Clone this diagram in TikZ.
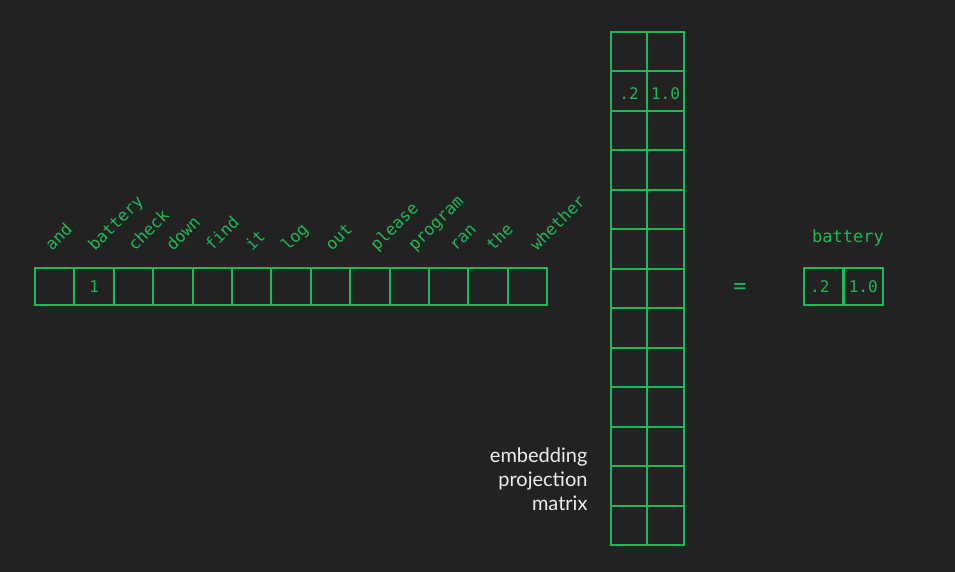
\documentclass[tikz,border=0pt]{standalone}
\usepackage{fontspec}
\setmainfont{Lato}
\setmonofont{DejaVu Sans Mono}
\usetikzlibrary{positioning}
\definecolor{bgdark}{HTML}{222222}
\definecolor{embgreen}{HTML}{1DB954}
\definecolor{labwhite}{HTML}{EEEEEE}
\tikzset{
  cell/.style={draw=embgreen, line width=2pt, inner sep=0pt, outer sep=0pt,
    text=embgreen, font=\ttfamily\fontsize{16}{16}\selectfont},
  onehot/.style={cell, minimum width=39.4pt, minimum height=37pt},
  projcell/.style={cell, minimum width=36.5pt, minimum height=39.46pt},
  word/.style={text=embgreen, inner sep=0pt, rotate=45, anchor=base west,
    font=\ttfamily\fontsize{16.5}{16.5}\selectfont}
}
\begin{document}
\begin{tikzpicture}[x=1pt,y=-1pt]
    \fill[bgdark] (0,0) rectangle (955,572); % background, fixes the page
    % one-hot row vector with its vocabulary
    \foreach \i in {1,...,13}{%
      \node[onehot] (v\i) at ({35+39.4*(\i-0.5)},286.5) {};
    }
    \foreach \w/\x [count=\i] in {and/52,battery/95,check/135,down/173,find/212,it/252,log/288,%
        out/332,please/377,program/415,ran/456,the/493,whether/537}{%
      \node[word] (w\i) at (\x,252) {\w};
    }
    \node[text=embgreen, font=\ttfamily\fontsize{16}{16}\selectfont] (one) at (v2) {1};

    % embedding projection matrix, 13 rows by 2 columns
    \foreach \r in {1,...,13}{% rows
      \foreach \c/\x in {1/629,2/665.5}{% columns
        \node[projcell] (m\r-\c) at (\x,{32+39.46*(\r-0.5)}) {};
      }
    }
    \node[text=embgreen, font=\ttfamily\fontsize{16}{16}\selectfont] (ma) at ([yshift=-2pt]m2-1.center) {.2};
    \node[text=embgreen, font=\ttfamily\fontsize{16}{16}\selectfont] (mb) at ([yshift=-2pt]m2-2.center) {1.0};
    \node[text=labwhite, align=right, anchor=east,
      font=\fontsize{20}{24}\selectfont] (mlabel) at (591,479)
      {embedding\\projection\\matrix};

    % result
    \node[text=embgreen, font=\ttfamily\fontsize{22}{22}\selectfont] (eq) at (740,289) {=};
    \node[onehot] (r1) at (823.75,286.5) {};
    \node[onehot] (r2) at (863.25,286.5) {1.0};
    \node[text=embgreen, font=\ttfamily\fontsize{16}{16}\selectfont] (ra) at ([xshift=-4pt]r1.center) {.2};
    \node[text=embgreen, anchor=base, font=\ttfamily\fontsize{17}{17}\selectfont] (rlabel) at (848,242) {battery};
\end{tikzpicture}
\end{document}
